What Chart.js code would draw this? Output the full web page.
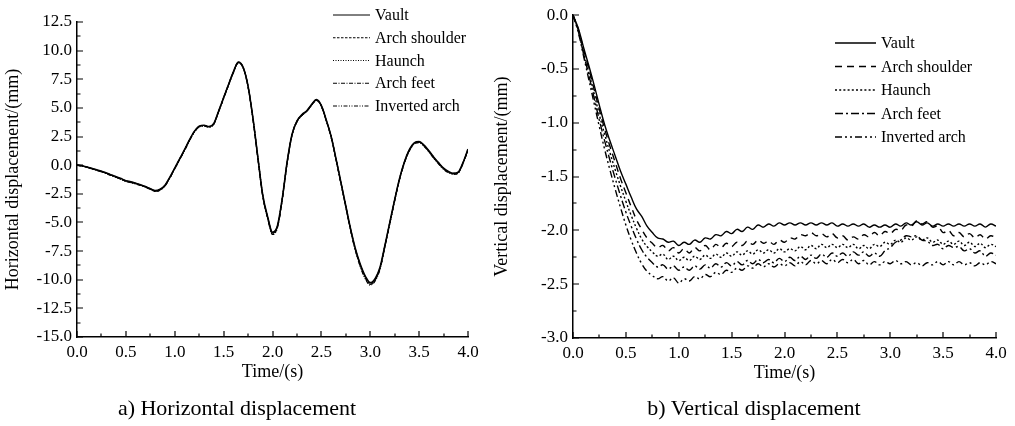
<!DOCTYPE html>
<html>
<head>
<meta charset="utf-8">
<script src="https://cdn.jsdelivr.net/npm/chart.js@4.4.1/dist/chart.umd.min.js"></script>
<style>
    body { margin: 0; background: #fff; }
    #wrap { position: relative; width: 1015px; height: 426px; overflow: hidden; background: #fff; }
    canvas { position: absolute; top: 0; }
    #hChart { left: 0; }
    #vChart { left: 490px; }
    .caption {
        position: absolute; top: 395px; width: 400px; text-align: center;
        font-family: 'Liberation Serif', 'Times New Roman', serif; font-size: 22px; line-height: 26px; color: #000;
    }
</style>
</head>
<body>
<div id="wrap">
    <canvas id="hChart" width="500" height="426"></canvas>
    <canvas id="vChart" width="525" height="426"></canvas>
    <div class="caption" style="left: 37px;">a) Horizontal displacement</div>
    <div class="caption" style="left: 554px;">b) Vertical displacement</div>
</div>
<script>
const SERIF = "'Liberation Serif', 'Times New Roman', serif";

// sampling instants (s), shared by every curve
const timeS = [
    0.00, 0.05, 0.10, 0.15, 0.20, 0.25, 0.30, 0.35, 0.40, 0.45,
    0.50, 0.55, 0.60, 0.65, 0.70, 0.75, 0.80, 0.85, 0.90, 0.95,
    1.00, 1.05, 1.10, 1.15, 1.20, 1.25, 1.30, 1.35, 1.40, 1.45,
    1.50, 1.55, 1.60, 1.65, 1.70, 1.75, 1.80, 1.85, 1.90, 1.95,
    2.00, 2.05, 2.10, 2.15, 2.20, 2.25, 2.30, 2.35, 2.40, 2.45,
    2.50, 2.55, 2.60, 2.65, 2.70, 2.75, 2.80, 2.85, 2.90, 2.95,
    3.00, 3.05, 3.10, 3.15, 3.20, 3.25, 3.30, 3.35, 3.40, 3.45,
    3.50, 3.55, 3.60, 3.65, 3.70, 3.75, 3.80, 3.85, 3.90, 3.95,
    4.00
];

const pointNames = ['Vault', 'Arch shoulder', 'Haunch', 'Arch feet', 'Inverted arch'];

// horizontal displacement (mm)
const hVault = [
    0.00, -0.05, -0.15, -0.28, -0.40, -0.52, -0.68, -0.85, -1.00, -1.17,
    -1.35, -1.45, -1.57, -1.70, -1.86, -2.05, -2.22, -2.10, -1.75, -1.05,
    -0.25, 0.55, 1.35, 2.20, 2.95, 3.40, 3.48, 3.38, 3.65, 4.75,
    5.90, 7.05, 8.15, 9.00, 8.55, 6.90, 4.10, 0.70, -2.60, -4.50,
    -5.85, -5.30, -2.90, 0.30, 2.70, 3.85, 4.40, 4.75, 5.30, 5.72,
    5.20, 3.95, 2.50, 0.55, -1.50, -3.55, -5.60, -7.35, -8.70, -9.70,
    -10.25, -9.90, -8.90, -7.00, -5.00, -3.00, -1.15, 0.30, 1.35, 1.95,
    2.06, 1.75, 1.25, 0.70, 0.20, -0.26, -0.55, -0.70, -0.60, 0.25,
    1.40
];
const hShoulder = [
    0.00, -0.06, -0.16, -0.29, -0.42, -0.54, -0.70, -0.86, -1.02, -1.19,
    -1.37, -1.47, -1.58, -1.72, -1.88, -2.07, -2.24, -2.12, -1.77, -1.07,
    -0.27, 0.53, 1.33, 2.18, 2.93, 3.39, 3.46, 3.36, 3.63, 4.73,
    5.88, 7.03, 8.13, 8.98, 8.53, 6.88, 4.08, 0.68, -2.62, -4.53,
    -5.90, -5.35, -2.93, 0.27, 2.68, 3.83, 4.38, 4.73, 5.28, 5.70,
    5.18, 3.93, 2.48, 0.53, -1.52, -3.58, -5.63, -7.39, -8.74, -9.75,
    -10.30, -9.95, -8.94, -7.03, -5.03, -3.02, -1.17, 0.28, 1.33, 1.93,
    2.04, 1.73, 1.23, 0.68, 0.18, -0.28, -0.57, -0.72, -0.62, 0.23,
    1.38
];
const hHaunch = [
    0.00, -0.06, -0.17, -0.30, -0.42, -0.55, -0.71, -0.87, -1.03, -1.20,
    -1.38, -1.48, -1.60, -1.73, -1.89, -2.08, -2.25, -2.13, -1.78, -1.08,
    -0.28, 0.52, 1.32, 2.17, 2.92, 3.38, 3.45, 3.35, 3.62, 4.72,
    5.87, 7.02, 8.12, 8.97, 8.52, 6.87, 4.07, 0.67, -2.64, -4.55,
    -5.93, -5.38, -2.95, 0.25, 2.66, 3.82, 4.37, 4.72, 5.27, 5.69,
    5.17, 3.92, 2.47, 0.52, -1.54, -3.60, -5.66, -7.42, -8.78, -9.79,
    -10.33, -9.98, -8.97, -7.05, -5.05, -3.04, -1.19, 0.26, 1.31, 1.91,
    2.02, 1.71, 1.21, 0.66, 0.16, -0.30, -0.59, -0.74, -0.64, 0.21,
    1.36
];
const hFeet = [
    0.00, -0.06, -0.17, -0.31, -0.43, -0.56, -0.72, -0.89, -1.05, -1.22,
    -1.40, -1.50, -1.62, -1.75, -1.91, -2.10, -2.27, -2.15, -1.80, -1.10,
    -0.30, 0.50, 1.30, 2.15, 2.90, 3.36, 3.44, 3.34, 3.60, 4.70,
    5.85, 7.00, 8.10, 8.95, 8.50, 6.85, 4.05, 0.65, -2.67, -4.59,
    -5.98, -5.42, -2.98, 0.22, 2.64, 3.80, 4.35, 4.70, 5.25, 5.67,
    5.15, 3.90, 2.45, 0.50, -1.57, -3.64, -5.70, -7.47, -8.84, -9.86,
    -10.40, -10.04, -9.02, -7.09, -5.08, -3.07, -1.22, 0.23, 1.28, 1.88,
    1.99, 1.68, 1.18, 0.63, 0.13, -0.33, -0.62, -0.77, -0.67, 0.18,
    1.34
];
const hInverted = [
    0.00, -0.07, -0.18, -0.32, -0.45, -0.58, -0.74, -0.91, -1.07, -1.24,
    -1.42, -1.52, -1.64, -1.77, -1.93, -2.12, -2.30, -2.18, -1.82, -1.12,
    -0.32, 0.48, 1.28, 2.13, 2.88, 3.34, 3.42, 3.32, 3.58, 4.68,
    5.83, 6.98, 8.08, 8.93, 8.48, 6.83, 4.02, 0.62, -2.71, -4.64,
    -6.05, -5.48, -3.02, 0.19, 2.62, 3.78, 4.33, 4.68, 5.23, 5.65,
    5.13, 3.88, 2.43, 0.47, -1.60, -3.68, -5.75, -7.53, -8.91, -9.94,
    -10.48, -10.11, -9.08, -7.14, -5.12, -3.10, -1.25, 0.20, 1.25, 1.85,
    1.96, 1.65, 1.15, 0.60, 0.10, -0.36, -0.65, -0.80, -0.70, 0.15,
    1.32
];

// vertical displacement (mm)
const vVault = [
    0.00, -0.12, -0.30, -0.47, -0.65, -0.84, -1.02, -1.17, -1.31, -1.45,
    -1.57, -1.69, -1.80, -1.87, -1.96, -2.02, -2.07, -2.08, -2.11, -2.10,
    -2.14, -2.11, -2.13, -2.09, -2.11, -2.07, -2.08, -2.04, -2.05, -2.01,
    -2.03, -1.99, -2.01, -1.97, -1.99, -1.95, -1.97, -1.94, -1.96, -1.93,
    -1.95, -1.93, -1.95, -1.93, -1.95, -1.93, -1.95, -1.93, -1.95, -1.93,
    -1.96, -1.94, -1.96, -1.94, -1.96, -1.94, -1.97, -1.95, -1.97, -1.95,
    -1.97, -1.94, -1.96, -1.93, -1.95, -1.92, -1.95, -1.93, -1.96, -1.94,
    -1.96, -1.94, -1.96, -1.94, -1.96, -1.94, -1.96, -1.94, -1.97, -1.94,
    -1.96
];
const vShoulder = [
    0.00, -0.13, -0.32, -0.50, -0.69, -0.88, -1.06, -1.22, -1.37, -1.52,
    -1.65, -1.78, -1.90, -1.99, -2.07, -2.12, -2.16, -2.14, -2.19, -2.16,
    -2.21, -2.17, -2.21, -2.16, -2.19, -2.14, -2.18, -2.13, -2.16, -2.12,
    -2.15, -2.11, -2.14, -2.10, -2.13, -2.09, -2.12, -2.10, -2.13, -2.09,
    -2.11, -2.07, -2.08, -2.04, -2.05, -2.02, -2.05, -2.03, -2.06, -2.03,
    -2.07, -2.05, -2.09, -2.06, -2.08, -2.04, -2.06, -2.02, -2.05, -2.01,
    -2.03, -1.99, -2.00, -1.95, -1.96, -1.91, -1.94, -1.92, -1.97, -1.96,
    -2.02, -2.00, -2.05, -2.02, -2.06, -2.03, -2.07, -2.04, -2.08, -2.05,
    -2.07
];
const vHaunch = [
    0.00, -0.14, -0.34, -0.53, -0.73, -0.93, -1.11, -1.28, -1.44, -1.59,
    -1.73, -1.86, -1.98, -2.08, -2.15, -2.20, -2.24, -2.22, -2.27, -2.24,
    -2.28, -2.25, -2.28, -2.24, -2.27, -2.23, -2.26, -2.22, -2.25, -2.21,
    -2.24, -2.20, -2.23, -2.19, -2.22, -2.18, -2.21, -2.18, -2.21, -2.17,
    -2.20, -2.17, -2.19, -2.15, -2.18, -2.14, -2.17, -2.13, -2.16, -2.13,
    -2.16, -2.13, -2.16, -2.13, -2.17, -2.14, -2.17, -2.13, -2.15, -2.11,
    -2.13, -2.09, -2.11, -2.07, -2.09, -2.06, -2.09, -2.07, -2.11, -2.09,
    -2.13, -2.10, -2.13, -2.10, -2.14, -2.11, -2.15, -2.12, -2.16, -2.13,
    -2.15
];
const vFeet = [
    0.00, -0.15, -0.36, -0.56, -0.77, -0.98, -1.17, -1.35, -1.52, -1.68,
    -1.83, -1.96, -2.08, -2.18, -2.25, -2.30, -2.34, -2.32, -2.36, -2.33,
    -2.37, -2.34, -2.37, -2.33, -2.36, -2.32, -2.35, -2.31, -2.34, -2.30,
    -2.33, -2.29, -2.32, -2.28, -2.31, -2.27, -2.30, -2.27, -2.30, -2.26,
    -2.29, -2.25, -2.28, -2.24, -2.27, -2.23, -2.26, -2.22, -2.25, -2.21,
    -2.24, -2.21, -2.24, -2.20, -2.23, -2.20, -2.24, -2.21, -2.24, -2.19,
    -2.16, -2.11, -2.09, -2.05, -2.06, -2.05, -2.09, -2.10, -2.14, -2.13,
    -2.17, -2.14, -2.16, -2.15, -2.19, -2.17, -2.21, -2.19, -2.24, -2.21,
    -2.23
];
const vInverted = [
    0.00, -0.16, -0.38, -0.60, -0.82, -1.04, -1.25, -1.44, -1.62, -1.79,
    -1.95, -2.09, -2.21, -2.31, -2.38, -2.42, -2.45, -2.43, -2.47, -2.44,
    -2.49, -2.45, -2.47, -2.43, -2.45, -2.41, -2.43, -2.39, -2.41, -2.37,
    -2.39, -2.35, -2.37, -2.33, -2.35, -2.31, -2.34, -2.31, -2.34, -2.31,
    -2.33, -2.30, -2.33, -2.29, -2.32, -2.28, -2.31, -2.28, -2.31, -2.27,
    -2.30, -2.27, -2.30, -2.27, -2.31, -2.28, -2.32, -2.29, -2.32, -2.29,
    -2.31, -2.28, -2.31, -2.29, -2.32, -2.30, -2.33, -2.30, -2.32, -2.29,
    -2.32, -2.29, -2.32, -2.29, -2.32, -2.30, -2.33, -2.30, -2.32, -2.29,
    -2.31
];

const hTicks = { min: -15, max: 12.5, step: 2.5 };
const vTicks = { min: -3, max: 0, step: 0.5 };
const timeTicks = { min: 0, max: 4, step: 0.5 };

// small ticks pointing into the plot, major + one minor in between
const inwardTicks = {
    id: 'inwardTicks',
    afterDraw(chart) {
        const { ctx, chartArea, scales } = chart;
        ctx.save();
        ctx.strokeStyle = '#000';
        ctx.lineWidth = 1.2;
        ctx.beginPath();
        const xs = scales.x, ys = scales.y;
        const xStep = xs.options.ticks.stepSize / 2;
        for (let k = 0; xs.min + k * xStep <= xs.max + 1e-9; k++) {
            const px = Math.round(xs.getPixelForValue(xs.min + k * xStep));
            const len = k % 2 === 0 ? 6 : 3.5;
            ctx.moveTo(px, chartArea.bottom);
            ctx.lineTo(px, chartArea.bottom - len);
        }
        const yStep = ys.options.ticks.stepSize / 2;
        for (let k = 0; ys.min + k * yStep <= ys.max + 1e-9; k++) {
            const py = Math.round(ys.getPixelForValue(ys.min + k * yStep));
            const len = k % 2 === 0 ? 6 : 3.5;
            ctx.moveTo(chartArea.left, py);
            ctx.lineTo(chartArea.left + len, py);
        }
        ctx.stroke();
        ctx.restore();
    }
};

// line-sample key drawn inside the plot
const lineKey = {
    id: 'lineKey',
    afterDraw(chart, args, opts) {
        const { ctx } = chart;
        ctx.save();
        ctx.font = '16px ' + SERIF;
        ctx.fillStyle = '#000';
        ctx.textBaseline = 'middle';
        chart.data.datasets.forEach((ds, i) => {
            const y = opts.top + i * opts.rowGap;
            ctx.save();
            ctx.strokeStyle = '#000';
            ctx.lineWidth = opts.lineWidth;
            ctx.setLineDash(opts.dashes[i]);
            ctx.beginPath();
            ctx.moveTo(opts.left, y);
            ctx.lineTo(opts.left + opts.lineLen, y);
            ctx.stroke();
            ctx.restore();
            ctx.fillText(ds.label, opts.left + opts.lineLen + opts.gap, y + 1);
        });
        ctx.restore();
    }
};

function makeSet(label, values, dash, width, smooth) {
    return {
        label: label,
        data: timeS.map((t, i) => ({ x: t, y: values[i] })),
        borderColor: '#000',
        borderWidth: width,
        borderDash: dash,
        pointRadius: 0,
        fill: false,
        tension: smooth ? 0.4 : 0,
        cubicInterpolationMode: smooth ? 'default' : 'monotone'
    };
}

function axisOptions(range, title, titlePad, fitSize, isX) {
    return {
        type: 'linear',
        min: range.min,
        max: range.max,
        ticks: {
            stepSize: range.step,
            autoSkip: false,
            maxRotation: 0,
            padding: 5,
            color: '#000',
            font: { family: SERIF, size: 17 },
            callback: v => Number(v).toFixed(1)
        },
        grid: { display: false, drawTicks: false },
        border: { display: true, color: '#000', width: 1.5 },
        title: {
            display: true,
            text: title,
            color: '#000',
            font: { family: SERIF, size: 18 },
            padding: isX ? { top: 0, bottom: 0 } : { top: titlePad, bottom: 0 }
        },
        afterFit: s => { if (isX) s.height = fitSize; else s.width = fitSize; }
    };
}

const hDash = [[], [2.5, 1.5], [1, 1.5], [4, 1.5, 1, 1.5], [4, 1.5, 1, 1.5, 1, 1.5]];
const vDash = [[], [7, 5], [2, 2.2], [8, 3, 2, 3], [7, 3, 2, 3, 2, 3]];

new Chart(document.getElementById('hChart'), {
    type: 'line',
    data: {
        datasets: [
            makeSet(pointNames[0], hVault, hDash[0], 1.6, false),
            makeSet(pointNames[1], hShoulder, hDash[1], 1.2, false),
            makeSet(pointNames[2], hHaunch, hDash[2], 1.2, false),
            makeSet(pointNames[3], hFeet, hDash[3], 1.2, false),
            makeSet(pointNames[4], hInverted, hDash[4], 1.2, false)
        ]
    },
    options: {
        responsive: false,
        animation: false,
        layout: { padding: { top: 22, right: 32, bottom: 43, left: 0 } },
        plugins: {
            legend: { display: false },
            tooltip: { enabled: false },
            lineKey: { left: 333, top: 15, rowGap: 22.75, lineLen: 37, gap: 5, lineWidth: 1, dashes: hDash }
        },
        scales: {
            x: axisOptions(timeTicks, 'Time/(s)', 0, 46, true),
            y: axisOptions(hTicks, 'Horizontal displacement/(mm)', 2, 77, false)
        }
    },
    plugins: [inwardTicks, lineKey]
});

new Chart(document.getElementById('vChart'), {
    type: 'line',
    data: {
        datasets: [
            makeSet(pointNames[0], vVault, vDash[0], 1.4, true),
            makeSet(pointNames[1], vShoulder, vDash[1], 1.4, true),
            makeSet(pointNames[2], vHaunch, vDash[2], 1.4, true),
            makeSet(pointNames[3], vFeet, vDash[3], 1.4, true),
            makeSet(pointNames[4], vInverted, vDash[4], 1.4, true)
        ]
    },
    options: {
        responsive: false,
        animation: false,
        layout: { padding: { top: 14, right: 19, bottom: 42, left: 0 } },
        plugins: {
            legend: { display: false },
            tooltip: { enabled: false },
            lineKey: { left: 345, top: 43, rowGap: 23.5, lineLen: 41, gap: 5, lineWidth: 1.6, dashes: vDash }
        },
        scales: {
            x: axisOptions(timeTicks, 'Time/(s)', 0, 46, true),
            y: axisOptions(vTicks, 'Vertical displacement/(mm)', 1, 83, false)
        }
    },
    plugins: [inwardTicks, lineKey]
});
</script>
</body>
</html>
